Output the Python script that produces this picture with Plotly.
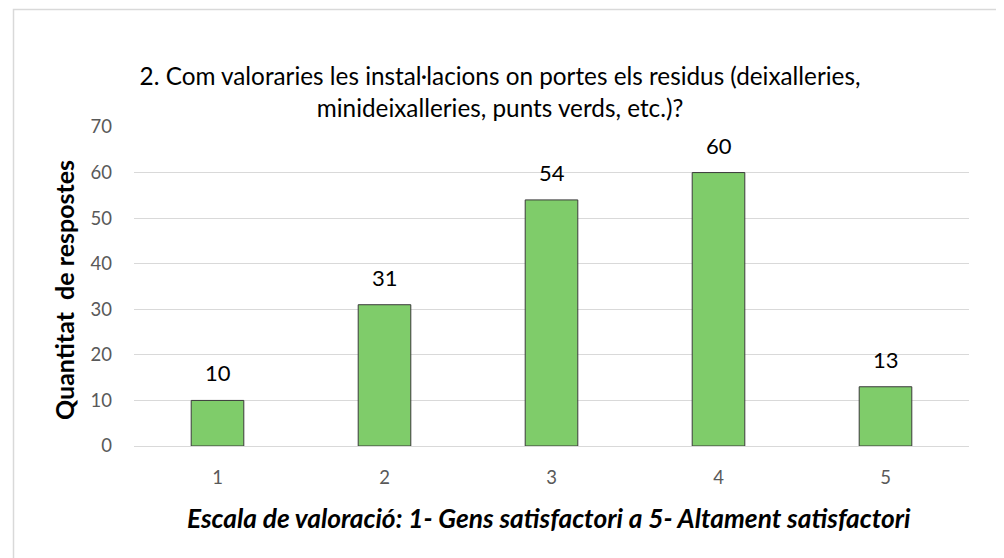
import plotly.graph_objects as go

categories = ["1", "2", "3", "4", "5"]
values = [10, 31, 54, 60, 13]
y_ticks = [0, 10, 20, 30, 40, 50, 60, 70]

title_text = ("2. Com valoraries les instal·lacions on portes els residus (deixalleries,<br>"
              "minideixalleries, punts verds, etc.)?")
x_title = "Escala de valoració: 1- Gens satisfactori a 5- Altament satisfactori"
y_title = "Quantitat  de respostes"

# page has an 8px body margin; figure is sized to fit inside the window
OFF = 8
W, H = 1004 - OFF, 558 - OFF
L, R, T, B = 126, 35, 119, 112
pw, ph = W - L - R, H - T - B

def fx(page_px):
    return (page_px - OFF - L) / pw

def fy(page_py):
    return (H - B - (page_py - OFF)) / ph

FONT = "Lato, 'Open Sans', sans-serif"

fig = go.Figure()
fig.add_trace(go.Bar(
    x=categories, y=values,
    marker=dict(color="#7FCC6A", line=dict(color="#3a3a3a", width=1)),
    width=0.315,
    hoverinfo="x+y",
))

# value labels above bars (category axis positions are the category indices)
for i, v in enumerate(values):
    fig.add_annotation(x=i, y=v, text=str(v), showarrow=False, yanchor="bottom",
                       yshift=12, font=dict(size=22, color="#000000", family=FONT))

fig.update_layout(
    width=W, height=H,
    margin=dict(l=L, r=R, t=T, b=B),
    paper_bgcolor="white", plot_bgcolor="white",
    showlegend=False,
    title=dict(text=title_text, x=0.494, xanchor="center", xref="container",
               yref="container", y=1 - (85 - OFF) / H, yanchor="middle",
               font=dict(size=24.3, color="#000000", family=FONT)),
    xaxis=dict(
        type="category", showgrid=False, showline=True, linecolor="#D9D9D9", linewidth=1,
        range=[-0.5, 4.5],
        ticks="", ticklabelstandoff=15, tickfont=dict(size=18.5, color="#595959", family=FONT),
    ),
    yaxis=dict(
        range=[0, 70], tickvals=y_ticks, showgrid=True, gridcolor="#D9D9D9", gridwidth=1,
        zeroline=False, showline=False, ticks="", ticklabelstandoff=21,
        tickfont=dict(size=18.5, color="#595959", family=FONT),
    ),
)

fig.add_annotation(xref="paper", yref="paper", x=fx(549), y=fy(518),
                   text="<b><i>" + x_title + "</i></b>", showarrow=False,
                   xanchor="center", yanchor="middle",
                   font=dict(size=26.3, color="#000000", family=FONT))
fig.add_annotation(xref="paper", yref="paper", x=fx(64), y=fy(290),
                   text="<b>" + y_title + "</b>", showarrow=False, textangle=-90,
                   xanchor="center", yanchor="middle",
                   font=dict(size=25, color="#000000", family=FONT))

fig.add_shape(type="rect", xref="paper", yref="paper",
              x0=fx(13.5), x1=fx(998),
              y0=fy(600), y1=fy(9.5),
              line=dict(color="#D9D9D9", width=1.5), fillcolor="rgba(0,0,0,0)", layer="below")

fig.write_html("out.html")
